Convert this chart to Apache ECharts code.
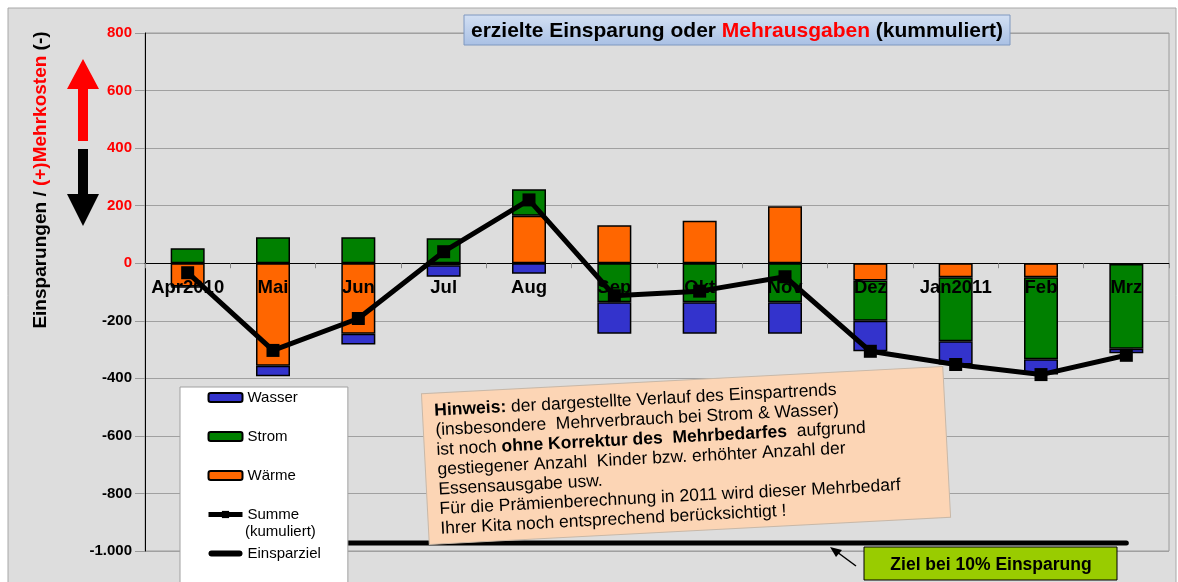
<!DOCTYPE html>
<html>
<head>
<meta charset="utf-8">
<script src="https://cdn.jsdelivr.net/npm/echarts@6/dist/echarts.min.js"></script>
<style>html,body{margin:0;padding:0;background:#fff;}#chart{width:1178px;height:582px;}</style>
</head>
<body>
<div id="chart"></div>
<script>
const categories = ['Apr2010','Mai','Jun','Jul','Aug','Sep','Okt','Nov','Dez','Jan2011','Feb','Mrz'];
const waerme = [-81, -356, -245, -7, 165, 132, 148, 198, -60, -49, -49, -3];
const strom  = [52, 90, 90, 87, 92, -136, -136, -136, -140, -222, -285, -294];
const wasser = [-4, -37, -37, -40, -37, -109, -109, -109, -106, -81, -53, -16];
const summe  = [-33, -303, -192, 40, 220, -113, -97, -47, -306, -352, -387, -320];
const einsparziel = [-972, -972, -972, -972, -972, -972, -972, -972, -972, -972, -972, -972];
const yTicks = [-1000, -800, -600, -400, -200, 0, 200, 400, 600, 800];

const FONT = '"Liberation Sans", Arial, sans-serif';
const chart = echarts.init(document.getElementById('chart'), null, {renderer: 'canvas'});

const GRID_TOP = 33, GRID_BOTTOM = 31, H = 582;
const yMin = yTicks[0], yMax = yTicks[yTicks.length - 1];
const plotH = H - GRID_TOP - GRID_BOTTOM;
const zeroOffset = -plotH * (0 - yMin) / (yMax - yMin);

function fmtY(v) {
  const s = v <= -1000 ? '-' + Math.floor(-v / 1000) + '.' + String(-v % 1000).padStart(3, '0') : String(v);
  return v >= 0 ? '{p|' + s + '}' : '{n|' + s + '}';
}

const barBase = {type: 'bar', stack: 'total', barWidth: 34};

const option = {
  backgroundColor: '#fff',
  animation: false,
  grid: {left: 145, right: 9, top: GRID_TOP, bottom: GRID_BOTTOM, show: true, borderColor: '#9a9a9a', borderWidth: 1},
  xAxis: {
    type: 'category', data: categories, z: 10, position: 'bottom', offset: zeroOffset,
    axisLine: {onZero: false, lineStyle: {color: '#000', width: 1}},
    axisTick: {show: true, length: 5, lineStyle: {color: '#888'}},
    axisLabel: {interval: 0, fontFamily: FONT, fontWeight: 'bold', fontSize: 18.5, color: '#000', margin: 15}
  },
  yAxis: {
    type: 'value', min: yMin, max: yMax, interval: 200,
    axisLine: {show: true, lineStyle: {color: '#000', width: 1}},
    axisTick: {show: true, length: 10, lineStyle: {color: '#999'}},
    splitLine: {lineStyle: {color: '#a0a0a0', width: 1}},
    axisLabel: {margin: 13, formatter: fmtY,
      rich: {p: {color: '#ff0000', fontWeight: 'bold', fontSize: 15, fontFamily: FONT},
             n: {color: '#000', fontWeight: 'bold', fontSize: 15, fontFamily: FONT}}}
  },
  legend: {
    orient: 'vertical', left: 180, top: 387, height: 300,
    backgroundColor: '#fff', borderColor: '#a0a0a0', borderWidth: 1,
    padding: [3, 27, 40, 26], itemWidth: 34, itemHeight: 9, itemGap: 24,
    data: ['Wasser', 'Strom', 'Wärme', 'Summe (kumuliert)',
      {name: 'Einsparziel', icon: 'path://M3,0 L31,0 A3,3 0 0 1 31,6 L3,6 A3,3 0 0 1 3,0 Z', itemStyle: {color: '#000'}}],
    formatter: function (n) { return n === 'Summe (kumuliert)' ? 'Summe' : n; },
    textStyle: {fontFamily: FONT, fontSize: 15, color: '#000'},
    lineStyle: {width: 'inherit'}
  },
  series: [
    Object.assign({}, barBase, {name: 'Wärme', data: waerme, itemStyle: {color: '#ff6600', borderColor: '#000', borderWidth: 1.5}}),
    Object.assign({}, barBase, {name: 'Strom', data: strom, itemStyle: {color: '#008000', borderColor: '#000', borderWidth: 1.5}}),
    Object.assign({}, barBase, {name: 'Wasser', data: wasser, itemStyle: {color: '#3333cc', borderColor: '#000', borderWidth: 1.5}}),
    {name: 'Summe (kumuliert)', type: 'line', data: summe, z: 5, symbol: 'rect', symbolSize: 13,
     lineStyle: {color: '#000', width: 5}, itemStyle: {color: '#000'}},
    {name: 'Einsparziel', type: 'line', data: einsparziel, z: 3, symbol: 'none',
     lineStyle: {color: '#000', width: 5, cap: 'round'}, itemStyle: {color: '#000'}}
  ],
  graphic: [
    {type: 'rect', z: -10, shape: {x: 8, y: 8, width: 1168, height: 590},
     style: {fill: '#dddddd', stroke: '#a8a8a8', lineWidth: 1}},
    {type: 'text', x: 41, y: 180, rotation: Math.PI / 2, z: 20,
     style: {text: '{a|Einsparungen / }{r|(+)Mehrkosten}{a| (-)}', align: 'center', verticalAlign: 'middle',
       rich: {a: {fontFamily: FONT, fontWeight: 'bold', fontSize: 19, fill: '#000'},
              r: {fontFamily: FONT, fontWeight: 'bold', fontSize: 19, fill: '#ff0000'}}}},
    {type: 'polygon', z: 20, shape: {points: [[78, 141], [88, 141], [88, 89], [99, 89], [83, 59], [67, 89], [78, 89]]},
     style: {fill: '#ff0000'}},
    {type: 'polygon', z: 20, shape: {points: [[78, 149], [88, 149], [88, 194], [99, 194], [83, 226], [67, 194], [78, 194]]},
     style: {fill: '#000'}},
    {type: 'rect', z: 20, shape: {x: 464, y: 15, width: 546, height: 30},
     style: {fill: new echarts.graphic.LinearGradient(0, 0, 0, 1, [{offset: 0, color: '#d3e0f3'}, {offset: 1, color: '#a9c0e4'}]),
             stroke: '#7f98c0', lineWidth: 1}},
    {type: 'text', z: 21, x: 737, y: 31,
     style: {text: '{a|erzielte Einsparung oder }{r|Mehrausgaben}{a| (kummuliert)}', align: 'center', verticalAlign: 'middle',
       rich: {a: {fontFamily: FONT, fontWeight: 'bold', fontSize: 21, fill: '#000'},
              r: {fontFamily: FONT, fontWeight: 'bold', fontSize: 21, fill: '#ff0000'}}}},
    {type: 'group', x: 686, y: 455, rotation: 0.052, z: 30, children: [
      {type: 'rect', z: 30, shape: {x: -261, y: -75, width: 522, height: 151},
       style: {fill: '#fcd5b5', stroke: '#c8b8a8', lineWidth: 1}},
      {type: 'text', z: 31, x: -249, y: -67,
       style: {text: '{b|Hinweis:} der dargestellte Verlauf des Einspartrends\n(insbesondere  Mehrverbrauch bei Strom & Wasser)\nist noch {b|ohne Korrektur des  Mehrbedarfes}  aufgrund\ngestiegener Anzahl  Kinder bzw. erhöhter Anzahl der\nEssensausgabe usw.\nFür die Prämienberechnung in 2011 wird dieser Mehrbedarf\nIhrer Kita noch entsprechend berücksichtigt !',
         fontFamily: FONT, fontSize: 17.5, lineHeight: 19.7, fill: '#000', align: 'left', verticalAlign: 'top',
         rich: {b: {fontFamily: FONT, fontSize: 17.5, fontWeight: 'bold', lineHeight: 19.7, fill: '#000'}}}}
    ]},
    {type: 'rect', z: 30, shape: {x: 864, y: 547, width: 253, height: 33},
     style: {fill: '#99cc00', stroke: '#000', lineWidth: 1}},
    {type: 'text', z: 31, x: 991, y: 565,
     style: {text: 'Ziel bei 10% Einsparung', fontFamily: FONT, fontWeight: 'bold', fontSize: 17.5, fill: '#000', align: 'center', verticalAlign: 'middle'}},
    {type: 'line', z: 30, shape: {x1: 856, y1: 566, x2: 833, y2: 549}, style: {stroke: '#000', lineWidth: 1.5}},
    {type: 'polygon', z: 30, shape: {points: [[830, 547], [842, 550], [836, 557]]}, style: {fill: '#000'}},
    {type: 'text', z: 40, x: 245, y: 524,
     style: {text: '(kumuliert)', fontFamily: FONT, fontSize: 15, fill: '#000', align: 'left', verticalAlign: 'top'}}
  ]
};
chart.setOption(option);
</script>
</body>
</html>
